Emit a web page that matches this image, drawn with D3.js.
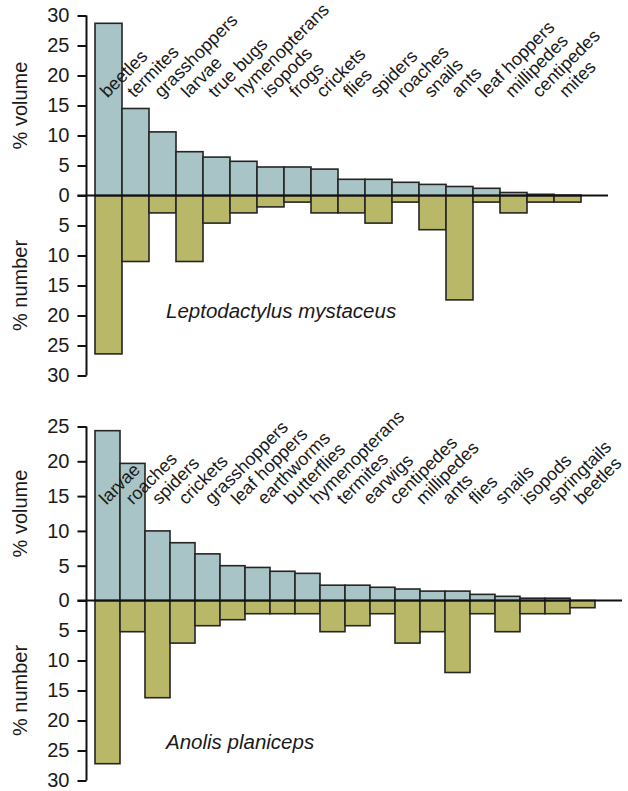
<!DOCTYPE html>
<html>
<head>
<meta charset="utf-8">
<script src="https://cdn.jsdelivr.net/npm/d3@7"></script>
<style>
  html, body { margin: 0; padding: 0; background: #fff; }
  svg { display: block; font-family: "Liberation Sans", Arial, Helvetica, sans-serif; }
</style>
</head>
<body>
<svg id="chart" width="628" height="791"></svg>
<script>
// Diet composition of two predators: % volume (up) and % number (down) per prey type.

// Leptodactylus mystaceus
const frogPrey = ["beetles", "termites", "grasshoppers", "larvae", "true bugs", "hymenopterans",
  "isopods", "frogs", "crickets", "flies", "spiders", "roaches", "snails", "ants",
  "leaf hoppers", "millipedes", "centipedes", "mites"];
const frogVolume = [28.7, 14.5, 10.6, 7.3, 6.4, 5.7, 4.75, 4.75, 4.4, 2.7, 2.7, 2.2, 1.85, 1.5, 1.2, 0.5, 0.2, 0.05];
const frogNumber = [26.4, 11.0, 2.9, 11.0, 4.6, 2.9, 1.9, 1.1, 2.9, 2.9, 4.6, 1.1, 5.7, 17.4, 1.1, 2.9, 1.1, 1.1];

// Anolis planiceps (20 prey bars, 19 named prey types)
const anolePrey = ["larvae", "roaches", "spiders", "crickets", "grasshoppers", "leaf hoppers",
  "earthworms", "butterflies", "hymenopterans", "termites", "earwigs", "centipedes",
  "millipedes", "ants", "flies", "snails", "isopods", "springtails", "beetles"];
const anoleVolume = [24.4, 19.7, 10.0, 8.3, 6.7, 5.0, 4.75, 4.2, 3.9, 2.2, 2.2, 1.9, 1.65, 1.35, 1.35, 0.88, 0.6, 0.33, 0.33, 0];
const anoleNumber = [27.2, 5.2, 16.2, 7.1, 4.2, 3.2, 2.2, 2.2, 2.2, 5.2, 4.2, 2.2, 7.1, 5.2, 12.0, 2.2, 5.2, 2.2, 2.2, 1.2];

const volumeTicks1 = [0, 5, 10, 15, 20, 25, 30];
const volumeTicks2 = [0, 5, 10, 15, 20, 25];
const numberTicks = [5, 10, 15, 20, 25, 30];

const VOL_COLOR = "#a8c4c6";
const NUM_COLOR = "#b8b868";
const EDGE = "#252525";
const INK = "#1a1a1a";

const svg = d3.select("#chart");

function drawPanel(cfg) {
  const g = svg.append("g");
  const axisX = 86.5;

  const x = d3.scaleBand()
    .domain(d3.range(cfg.volume.length))
    .range([95, 95 + cfg.barWidth * cfg.volume.length])
    .padding(0);

  const yVol = d3.scaleLinear().domain([0, cfg.volMax]).range([cfg.zeroY, cfg.volTopY]);
  const yNum = d3.scaleLinear().domain([0, 30]).range([cfg.zeroY, cfg.numBottomY]);

  // number bars (downward)
  g.append("g").selectAll("rect")
    .data(cfg.number)
    .join("rect")
    .attr("x", (d, i) => x(i))
    .attr("y", yNum(0))
    .attr("width", x.bandwidth())
    .attr("height", d => yNum(d) - yNum(0))
    .attr("fill", NUM_COLOR)
    .attr("stroke", EDGE)
    .attr("stroke-width", 1.6);

  // volume bars (upward)
  g.append("g").selectAll("rect")
    .data(cfg.volume.map((v, i) => ({ v, i })).filter(d => d.v > 0))
    .join("rect")
    .attr("x", d => x(d.i))
    .attr("y", d => yVol(d.v))
    .attr("width", x.bandwidth())
    .attr("height", d => yVol(0) - yVol(d.v))
    .attr("fill", VOL_COLOR)
    .attr("stroke", EDGE)
    .attr("stroke-width", 1.6);

  // zero line
  g.append("line")
    .attr("x1", axisX - 9).attr("x2", x.range()[1] + 27)
    .attr("y1", yVol(0)).attr("y2", yVol(0))
    .attr("stroke", "#111").attr("stroke-width", 2);

  // left axis
  const volAxis = g.append("g")
    .attr("transform", `translate(${axisX},0)`)
    .call(d3.axisLeft(yVol).tickValues(cfg.volTicks).tickSize(9).tickPadding(8).tickFormat(d3.format("d")));
  const numAxis = g.append("g")
    .attr("transform", `translate(${axisX},0)`)
    .call(d3.axisLeft(yNum).tickValues(numberTicks).tickSize(9).tickPadding(8).tickFormat(d3.format("d")));
  [volAxis, numAxis].forEach(a => {
    a.select(".domain").remove();
    a.selectAll(".tick line").attr("stroke", "#111").attr("stroke-width", 2);
    a.selectAll(".tick text").attr("fill", INK).style("font-size", "20px")
      .style("font-family", '"Liberation Sans", Arial, sans-serif');
  });
  g.append("line")
    .attr("x1", axisX).attr("x2", axisX)
    .attr("y1", yVol(cfg.volMax)).attr("y2", yNum(30))
    .attr("stroke", "#111").attr("stroke-width", 2);

  // axis titles
  g.append("text")
    .attr("transform", `translate(27,${(yVol(0) + yVol(cfg.volMax)) / 2}) rotate(-90)`)
    .attr("text-anchor", "middle")
    .attr("fill", INK)
    .style("font-size", "20px")
    .text("% volume");
  g.append("text")
    .attr("transform", `translate(27,${(yNum(0) + yNum(30)) / 2}) rotate(-90)`)
    .attr("text-anchor", "middle")
    .attr("fill", INK)
    .style("font-size", "20px")
    .text("% number");

  // prey labels, spread evenly over the bar centres
  const first = x(0) + x.bandwidth() / 2;
  const last = x(cfg.volume.length - 1) + x.bandwidth() / 2;
  const lx = d3.scalePoint().domain(cfg.prey).range([first, last]);
  g.append("g").selectAll("text")
    .data(cfg.prey)
    .join("text")
    .attr("transform", d => `translate(${lx(d) - 1},${cfg.zeroY - cfg.labelLift}) rotate(-45)`)
    .attr("fill", INK)
    .style("font-size", "18px")
    .text(d => d);

  // species name
  g.append("text")
    .attr("x", 166)
    .attr("y", cfg.speciesY)
    .attr("fill", INK)
    .style("font-size", "20.5px")
    .style("font-style", "italic")
    .text(cfg.species);
}

drawPanel({
  prey: frogPrey, volume: frogVolume, number: frogNumber,
  barWidth: 27, zeroY: 195.5, volTopY: 15.5, numBottomY: 375.5, volMax: 30,
  volTicks: volumeTicks1, labelLift: 97, species: "Leptodactylus mystaceus", speciesY: 318
});

drawPanel({
  prey: anolePrey, volume: anoleVolume, number: anoleNumber,
  barWidth: 25, zeroY: 600.5, volTopY: 426.5, numBottomY: 780.5, volMax: 25,
  volTicks: volumeTicks2, labelLift: 95, species: "Anolis planiceps", speciesY: 749
});
</script>
</body>
</html>
